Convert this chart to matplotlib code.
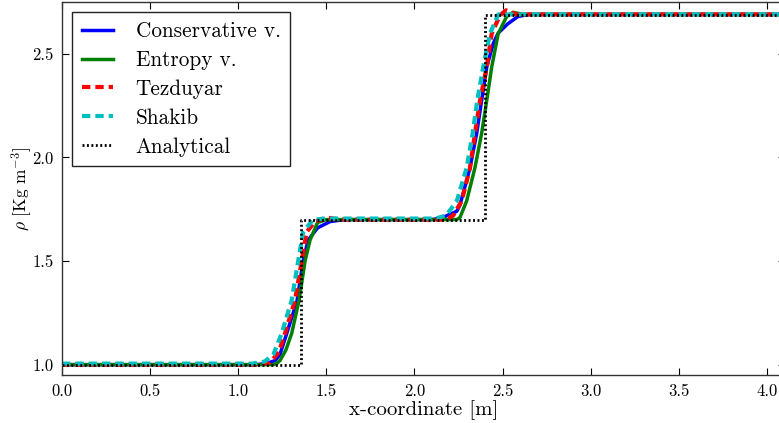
import matplotlib
matplotlib.use("Agg")
import matplotlib.pyplot as plt

plt.rcParams['font.family'] = 'serif'
plt.rcParams['font.serif'] = ['cmr10', 'DejaVu Serif']
plt.rcParams['mathtext.fontset'] = 'cm'
plt.rcParams['axes.formatter.use_mathtext'] = True
plt.rcParams['axes.unicode_minus'] = False

# Conservative viscosity
cons_x = [0, 1.10, 1.16, 1.21, 1.237, 1.275, 1.334, 1.368, 1.396, 1.45, 1.52, 1.60,
          2.10, 2.16, 2.24, 2.258, 2.315, 2.353, 2.381, 2.41, 2.447, 2.475, 2.53, 2.587, 2.65, 4.2]
cons_y = [1.0, 1.0, 1.005, 1.02, 1.05, 1.15, 1.31, 1.50, 1.60, 1.66, 1.69, 1.70,
          1.70, 1.71, 1.74, 1.77, 1.95, 2.116, 2.275, 2.436, 2.55, 2.60, 2.645, 2.68, 2.69, 2.69]

# Entropy viscosity
ent_x = [0, 1.20, 1.218, 1.237, 1.27, 1.303, 1.345, 1.379, 1.407, 1.45, 1.50,
         2.24, 2.258, 2.296, 2.343, 2.381, 2.41, 2.438, 2.475, 2.523, 2.56, 2.62, 4.2]
ent_y = [1.0, 1.0, 1.005, 1.02, 1.07, 1.15, 1.31, 1.50, 1.60, 1.686, 1.70,
         1.70, 1.71, 1.79, 1.95, 2.116, 2.275, 2.436, 2.597, 2.68, 2.70, 2.69, 2.69]

# Tezduyar
tez_x = [0, 1.12, 1.18, 1.23, 1.265, 1.322, 1.36, 1.388, 1.435, 1.50, 1.58,
         2.18, 2.22, 2.268, 2.315, 2.343, 2.372, 2.41, 2.438, 2.485, 2.52, 2.58, 4.2]
tez_y = [1.0, 1.0, 1.01, 1.06, 1.15, 1.31, 1.50, 1.64, 1.69, 1.71, 1.70,
         1.70, 1.72, 1.79, 1.95, 2.116, 2.275, 2.436, 2.597, 2.686, 2.71, 2.69, 2.69]

# Shakib
sha_x = [0, 1.08, 1.15, 1.20, 1.246, 1.303, 1.34, 1.368, 1.425, 1.50,
         2.12, 2.18, 2.24, 2.296, 2.33, 2.356, 2.39, 2.428, 2.475, 2.53, 4.2]
sha_y = [1.005, 1.005, 1.015, 1.05, 1.15, 1.31, 1.50, 1.64, 1.70, 1.705,
         1.705, 1.72, 1.79, 1.95, 2.116, 2.275, 2.436, 2.597, 2.69, 2.69, 2.69]

# Analytical
ana_x = [0, 1.354, 1.354, 2.40, 2.40, 4.2]
ana_y = [1.0, 1.0, 1.70, 1.70, 2.686, 2.686]

labels = ['Conservative v.', 'Entropy v.', 'Tezduyar', 'Shakib', 'Analytical']
xticks = [0.0, 0.5, 1.0, 1.5, 2.0, 2.5, 3.0, 3.5, 4.0]
yticks = [1.0, 1.5, 2.0, 2.5]

fig = plt.figure(figsize=(7.79, 4.23), dpi=100)
W, H = 779, 423
left, right = 62, 784.6
top, bottom = 2, 375
ax = fig.add_axes([left / W, (H - bottom) / H, (right - left) / W, (bottom - top) / H])

ax.plot(cons_x, cons_y, color=(0, 0, 1), lw=2.5, label=labels[0])
ax.plot(ent_x, ent_y, color=(0, 0.5, 0), lw=2.5, label=labels[1])
ax.plot(tez_x, tez_y, color=(1, 0, 0), lw=3, dashes=(2, 1.2), label=labels[2])
ax.plot(sha_x, sha_y, color=(0, 0.75, 0.75), lw=3, dashes=(2, 1.2), label=labels[3])
ax.plot(ana_x, ana_y, color='k', lw=2, dashes=(0.7, 0.9), label=labels[4])

ax.set_xlim(0, 4.1)
ax.set_ylim(0.95, 2.75)
ax.set_xticks(xticks)
ax.set_yticks(yticks)
ax.set_xticklabels([f'{v:.1f}' for v in xticks])
ax.set_yticklabels([f'{v:.1f}' for v in yticks])
ax.tick_params(direction='in', top=True, right=True, length=5, width=0.8,
               labelsize=12, pad=6)
for s in ax.spines.values():
    s.set_linewidth(1.0)
    s.set_color('#333333')

ax.set_xlabel('x-coordinate [m]', fontsize=15, labelpad=1)
ax.set_ylabel(r'$\rho$ [Kg m$^{-3}$]', fontsize=12.5, labelpad=-1)

leg = ax.legend(loc='upper left', fontsize=15.3, handlelength=1.5, handletextpad=1.05,
                labelspacing=0.44, borderpad=0.45, fancybox=False, framealpha=1,
                edgecolor='#222222', borderaxespad=0,
                bbox_to_anchor=(10 / 722.6, 1 - 10 / 373))
leg.get_frame().set_linewidth(1.0)

fig.savefig('out.png', dpi=100)
